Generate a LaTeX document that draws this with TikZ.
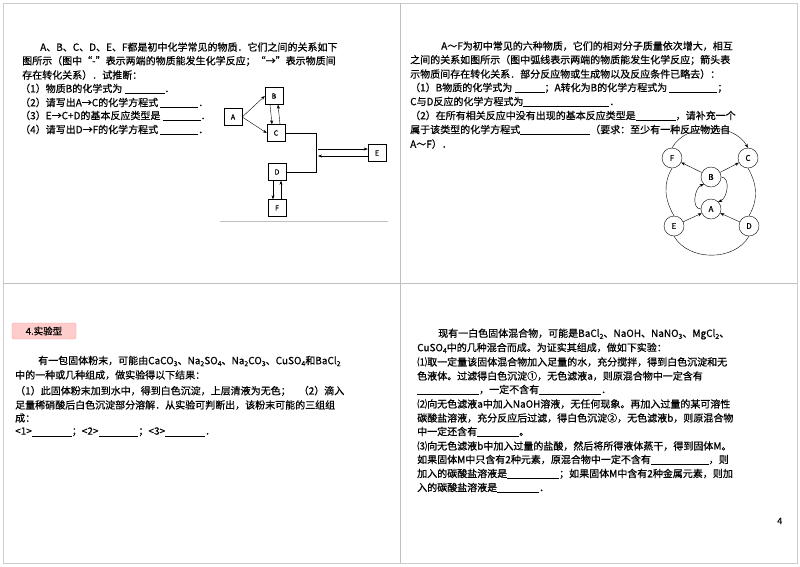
\documentclass[tikz,border=0pt]{standalone}
\usepackage{fontspec}
\setmainfont{Noto Sans CJK SC}[FakeBold=0.6]
\usetikzlibrary{arrows.meta}
\newcommand\chsub[1]{\raisebox{-0.35ex}{\scriptsize #1}}
\newcommand\blank[1]{\underline{\hspace{#1pt}}}
\begin{document}
\begin{tikzpicture}[x=1pt,y=-1pt,
  tl/.style={anchor=west,inner sep=0pt,font=\fontsize{10}{12}\selectfont},
  bx/.style={draw,fill=white,minimum width=18pt,minimum height=17pt,inner sep=0pt,font=\fontsize{7}{8}\selectfont\rmfamily},
  cr/.style={draw,circle,minimum size=20pt,inner sep=0pt,font=\fontsize{8}{9}\selectfont\rmfamily},
  ar/.style={-{Stealth[length=4pt,width=3pt]},thin},
  ln/.style={thin}]
\useasboundingbox (0,0) rectangle (800,566);
\draw[gray!40,line width=1pt] (3,3) rectangle (797,563);
\draw[gray!50,line width=0.8pt] (400,3) -- (400,563) (3,283) -- (797,283);
% ---------- top left
\node[tl] (a1) at (40,47) {A、B、C、D、E、F都是初中化学常见的物质．它们之间的关系如下};
\node[tl] (a2) at (22,61) {图所示（图中“-”表示两端的物质能发生化学反应；“→”表示物质间};
\node[tl] (a3) at (22,75) {存在转化关系）．试推断：};
\node[tl] (a4) at (20,89) {（1）物质B的化学式为 \blank{40}．};
\node[tl] (a5) at (20,103) {（2）请写出A→C的化学方程式 \blank{38}．};
\node[tl] (a6) at (20,116) {（3）E→C+D的基本反应类型是 \blank{38}．};
\node[tl] (a7) at (20,130) {（4）请写出D→F的化学方程式 \blank{38}．};
\node[bx] (B) at (274,96) {B};
\node[bx] (A) at (233,117) {A};
\node[bx] (C) at (276,133) {C};
\node[bx] (E) at (377,153) {E};
\node[bx] (D) at (277,172) {D};
\node[bx] (F) at (277,208) {F};
\coordinate (j1) at (316,133);
\coordinate (j2) at (316,172);
\coordinate (j3) at (318,149);
\coordinate (j4) at (318,156);
\draw[ln] (C.east) -- (j1) -- (j2) -- (D.east);
\draw[ar] (j3) -- (E.west |- j3);
\draw[ar] (E.west |- j4) -- (j4);
\draw[ar] (A.east) -- (B.west);
\draw[ar] (A.east) -- (C.west);
\draw[ar] ([xshift=-4pt]B.south) -- ([xshift=-4pt]C.north);
\draw[ar] ([xshift=4pt]C.north) -- ([xshift=4pt]B.south);
\draw[ar] ([xshift=-4pt]D.south) -- ([xshift=-4pt]F.north);
\draw[ar] ([xshift=4pt]F.north) -- ([xshift=4pt]D.south);
\coordinate (bl1) at (220,221); \coordinate (bl2) at (388,221);
\draw[gray!50] (bl1) -- (bl2);
% ---------- top right
\node[tl] (b1) at (441,46) {A～F为初中常见的六种物质，它们的相对分子质量依次增大，相互};
\node[tl] (b2) at (410,60) {之间的关系如图所示（图中弧线表示两端的物质能发生化学反应；箭头表};
\node[tl] (b3) at (410,74) {示物质间存在转化关系．部分反应物或生成物以及反应条件已略去）：};
\node[tl] (b4) at (410,88) {（1）B物质的化学式为 \blank{30}；A转化为B的化学方程式为 \blank{48}；};
\node[tl] (b5) at (410,102) {C与D反应的化学方程式为\blank{86}．};
\node[tl] (b6) at (410,116) {（2）在所有相关反应中没有出现的基本反应类型是\blank{40}，请补充一个};
\node[tl] (b7) at (410,130) {属于该类型的化学方程式\blank{70}（要求：至少有一种反应物选自};
\node[tl] (b8) at (410,144) {A～F）．};
\node[cr] (cF) at (672,158) {F};
\node[cr] (cC) at (748,158) {C};
\node[cr] (cB) at (711,177) {B};
\node[cr] (cA) at (711,209) {A};
\node[cr] (cE) at (674,226) {E};
\node[cr] (cD) at (749,226) {D};
\draw[ar] (cF.north) to[out=60,in=120] (cC.north);
\draw[thin] (cF.south) to[out=-120,in=120] (cE.north);
\draw[thin] (cC.south) to[out=-60,in=60] (cD.north);
\draw[thin] (cE.south) to[out=-60,in=-120] (cD.south);
\draw[ar] (cB) -- (cF);
\draw[ar] (cB) -- (cC);
\draw[ar] (cE) -- (cA);
\draw[ar] (cD) -- (cA);
\draw[ar] (cA.west) to[out=180,in=200] (cB.south west);
\draw[ar] (cB.east) to[out=0,in=20] (cA.north east);
% ---------- bottom left
\node[draw=red!40,fill=red!20,rounded corners=2pt,minimum width=64pt,minimum height=16pt,inner sep=0pt,font=\fontsize{9.5}{11}\selectfont] (lab) at (44,331) {4.实验型};
\node[tl] (c1) at (38,361) {有一包固体粉末，可能由CaCO\chsub{3}、Na\chsub{2}SO\chsub{4}、Na\chsub{2}CO\chsub{3}、CuSO\chsub{4}和BaCl\chsub{2}};
\node[tl] (c2) at (15,375) {中的一种或几种组成，做实验得以下结果：};
\node[tl] (c3) at (15,391) {（1）此固体粉末加到水中，得到白色沉淀，上层清液为无色；\hspace{8pt}（2）滴入};
\node[tl] (c4) at (15,405) {足量稀硝酸后白色沉淀部分溶解．从实验可判断出，该粉末可能的三组组};
\node[tl] (c5) at (15,418) {成：};
\node[tl] (c6) at (15,432) {<1>\blank{40}；<2>\blank{40}；<3>\blank{40}．};
% ---------- bottom right
\node[tl] (d1) at (438,334) {现有一白色固体混合物，可能是BaCl\chsub{2}、NaOH、NaNO\chsub{3}、MgCl\chsub{2}、};
\node[tl] (d2) at (417,348) {CuSO\chsub{4}中的几种混合而成。为证实其组成，做如下实验：};
\node[tl] (d3) at (417,362) {⑴取一定量该固体混合物加入足量的水，充分搅拌，得到白色沉淀和无};
\node[tl] (d4) at (417,376) {色液体。过滤得白色沉淀①，无色滤液a，则原混合物中一定含有};
\node[tl] (d5) at (417,390) {\blank{62}，一定不含有\blank{62}．};
\node[tl] (d6) at (417,404) {⑵向无色滤液a中加入NaOH溶液，无任何现象。再加入过量的某可溶性};
\node[tl] (d7) at (417,418) {碳酸盐溶液，充分反应后过滤，得白色沉淀②，无色滤液b，则原混合物};
\node[tl] (d8) at (417,432) {中一定还含有\blank{42}。};
\node[tl] (d9) at (417,446) {⑶向无色滤液b中加入过量的盐酸，然后将所得液体蒸干，得到固体M。};
\node[tl] (d10) at (417,460) {如果固体M中只含有2种元素，原混合物中一定不含有\blank{58}，则};
\node[tl] (d11) at (417,474) {加入的碳酸盐溶液是\blank{52}；如果固体M中含有2种金属元素，则加};
\node[tl] (d12) at (417,488) {入的碳酸盐溶液是\blank{42}．};
\node[tl,font=\fontsize{9}{10}\selectfont] (pg) at (777,521) {4};
\end{tikzpicture}
\end{document}
